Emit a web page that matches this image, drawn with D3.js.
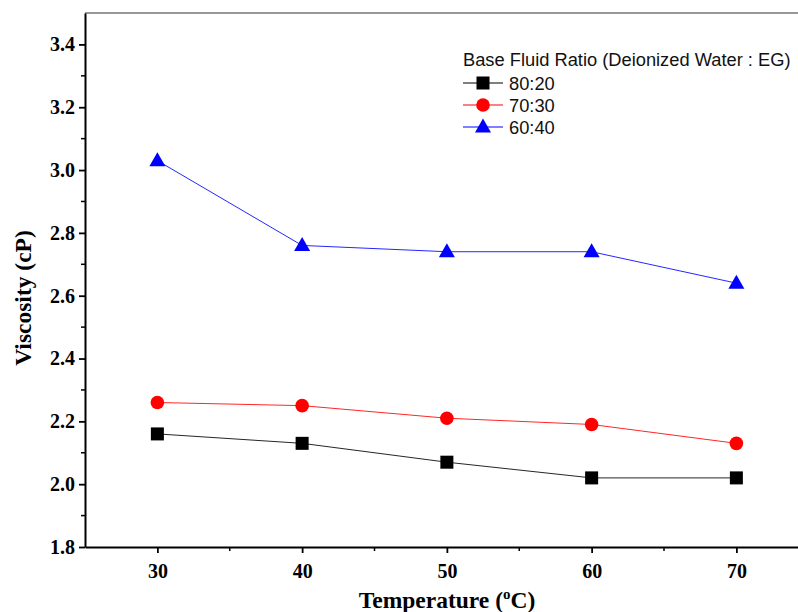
<!DOCTYPE html>
<html><head><meta charset="utf-8">
<script src="https://cdn.jsdelivr.net/npm/d3@7"></script>
<style>body{margin:0;background:#fff}svg{display:block}</style>
</head><body>
<svg id="c" width="798" height="612"></svg>
<script>
const temps = [30, 40, 50, 60, 70];
const seriesNames = ["80:20", "70:30", "60:40"];
const visc8020 = [2.16, 2.13, 2.07, 2.02, 2.02];
const visc7030 = [2.26, 2.25, 2.21, 2.19, 2.13];
const visc6040 = [3.03, 2.76, 2.74, 2.74, 2.64];
const yTicks = [1.8, 2.0, 2.2, 2.4, 2.6, 2.8, 3.0, 3.2, 3.4];
const xTicks = [30, 40, 50, 60, 70];
const legendTitle = "Base Fluid Ratio (Deionized Water : EG)";

const series = [
  {name: seriesNames[0], values: visc8020, color: "#000000", shape: "square"},
  {name: seriesNames[1], values: visc7030, color: "#ff0000", shape: "circle"},
  {name: seriesNames[2], values: visc6040, color: "#0000ff", shape: "triangle"}
];

const svg = d3.select("#c");
const L = 85, T = 13, B = 547;
const x = d3.scaleLinear().domain([25, 75]).range([L, L + 50 * 14.475]);
const y = d3.scaleLinear().domain([1.8, 3.5]).range([B, T]);

// top frame line
svg.append("line").attr("x1", L).attr("x2", 798).attr("y1", T).attr("y2", T)
  .attr("stroke", "#333").attr("stroke-width", 1.2);

const tickFont = "'Liberation Serif','Times New Roman',serif";

// x axis
const xAxis = svg.append("g").attr("transform", `translate(0,${B})`)
  .call(d3.axisBottom(x).tickValues(xTicks).tickSize(6).tickSizeOuter(0).tickFormat(d3.format("d")));
xAxis.select(".domain").attr("stroke", "#000").attr("stroke-width", 2);
xAxis.selectAll(".tick line").attr("stroke-width", 1.8);
xAxis.selectAll("text").attr("font-family", tickFont).attr("font-weight", "bold")
  .attr("font-size", 20).attr("y", 0).attr("dy", "1.55em");
svg.append("g").attr("transform", `translate(0,${B})`)
  .selectAll("line").data([35, 45, 55, 65]).join("line")
  .attr("x1", d => x(d)).attr("x2", d => x(d)).attr("y1", 0).attr("y2", 4)
  .attr("stroke", "#000").attr("stroke-width", 1.5);

// y axis
const yAxis = svg.append("g").attr("transform", `translate(${L},0)`)
  .call(d3.axisLeft(y).tickValues(yTicks).tickSize(6).tickSizeOuter(0).tickFormat(d3.format(".1f")));
yAxis.select(".domain").attr("stroke", "#000").attr("stroke-width", 2);
yAxis.selectAll(".tick line").attr("stroke-width", 1.8);
yAxis.selectAll("text").attr("font-family", tickFont).attr("font-weight", "bold")
  .attr("font-size", 20).attr("x", -10);
svg.append("g").attr("transform", `translate(${L},0)`)
  .selectAll("line").data([1.9, 2.1, 2.3, 2.5, 2.7, 2.9, 3.1, 3.3]).join("line")
  .attr("y1", d => y(d)).attr("y2", d => y(d)).attr("x1", 0).attr("x2", -4)
  .attr("stroke", "#000").attr("stroke-width", 1.5);

// axis titles
svg.append("text").attr("transform", `translate(31,${(T + B) / 2 + 18}) rotate(-90)`)
  .attr("text-anchor", "middle").attr("font-family", tickFont).attr("font-weight", "bold")
  .attr("font-size", 23.5).text("Viscosity (cP)");
const xt = svg.append("text").attr("x", 447).attr("y", 608).attr("text-anchor", "middle")
  .attr("font-family", tickFont).attr("font-weight", "bold").attr("font-size", 23.5);
xt.append("tspan").text("Temperature (");
xt.append("tspan").attr("font-size", 15).attr("dy", -9).text("o");
xt.append("tspan").attr("dy", 9).text("C)");

function drawMarker(g, shape, color, cx, cy) {
  if (shape === "square") {
    g.append("rect").attr("x", cx - 6.5).attr("y", cy - 6.5).attr("width", 13).attr("height", 13)
      .attr("fill", color);
  } else if (shape === "circle") {
    g.append("circle").attr("cx", cx).attr("cy", cy).attr("r", 6.8).attr("fill", color);
  } else {
    g.append("path").attr("d", `M${cx},${cy - 8.5}L${cx + 8},${cy + 5.5}L${cx - 8},${cy + 5.5}Z`)
      .attr("fill", color);
  }
}

const line = d3.line().x((d, i) => x(temps[i])).y(d => y(d));
series.forEach(s => {
  const g = svg.append("g");
  g.append("path").attr("d", line(s.values)).attr("fill", "none")
    .attr("stroke", s.color).attr("stroke-width", 1).attr("stroke-opacity", 0.85);
  s.values.forEach((v, i) => drawMarker(g, s.shape, s.color, x(temps[i]), y(v)));
});

// legend
const lg = svg.append("g").attr("font-family", "'Liberation Sans',Arial,sans-serif");
lg.append("text").attr("x", 463).attr("y", 66).attr("font-size", 18.3).attr("fill", "#111").text(legendTitle);
series.forEach((s, i) => {
  const cy = 83 + i * 22;
  lg.append("line").attr("x1", 463).attr("x2", 503).attr("y1", cy).attr("y2", cy)
    .attr("stroke", s.color).attr("stroke-width", 1.2);
  drawMarker(lg, s.shape, s.color, 483, cy);
  lg.append("text").attr("x", 509).attr("y", cy + 6.5).attr("font-size", 18.3).attr("fill", "#111").text(s.name);
});
</script>
</body></html>
